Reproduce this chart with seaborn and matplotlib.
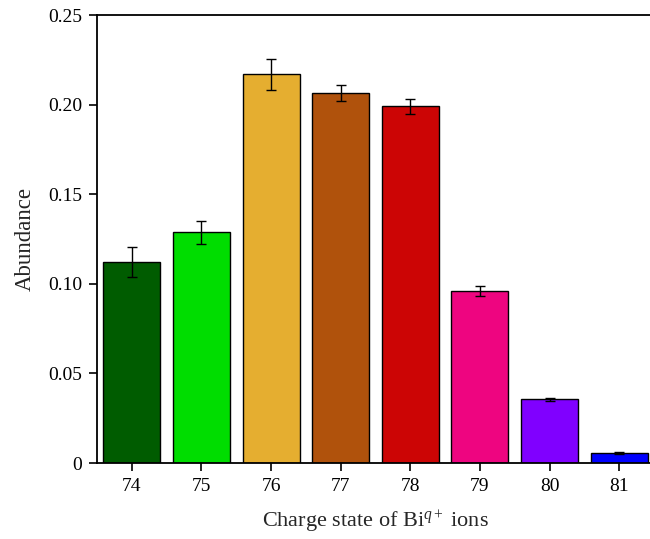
import matplotlib
matplotlib.use("Agg")
import matplotlib.pyplot as plt
import seaborn as sns
import pandas as pd

charges = ["74", "75", "76", "77", "78", "79", "80", "81"]
abundance = [0.1122, 0.1287, 0.2169, 0.2063, 0.1991, 0.0960, 0.0355, 0.0056]
errors = [0.0084, 0.0065, 0.0085, 0.0045, 0.0042, 0.0030, 0.0010, 0.0005]
colors = ["#005C00", "#00DD00", "#E5AE30", "#B0520C", "#CC0505", "#EE0580", "#8000FF", "#0000FF"]

sns.set_style("ticks")
plt.rcParams["font.family"] = ["Liberation Serif", "DejaVu Serif"]
plt.rcParams["mathtext.fontset"] = "custom"
plt.rcParams["mathtext.rm"] = "Liberation Serif"
plt.rcParams["mathtext.it"] = "Liberation Serif:italic"

df = pd.DataFrame({"charge": charges, "abundance": abundance})

fig = plt.figure(figsize=(6.5, 5.39), dpi=100)
ax = fig.add_axes([97 / 650, 76 / 539, (654 - 97) / 650, (463 - 15) / 539])

sns.barplot(data=df, x="charge", y="abundance", hue="charge", palette=colors,
            dodge=False, legend=False, width=0.82, edgecolor="black", linewidth=1.0,
            saturation=1, errorbar=None, ax=ax)
ax.errorbar(range(len(charges)), abundance, yerr=errors, fmt="none",
            ecolor="black", elinewidth=1.0, capsize=3.3, capthick=1.0)

ax.set_xlim(-0.5, 7.5)
ax.set_ylim(0, 0.25)
ax.set_yticks([0, 0.05, 0.10, 0.15, 0.20, 0.25])
ax.set_yticklabels(["0", "0.05", "0.10", "0.15", "0.20", "0.25"])
ax.tick_params(axis="both", labelsize=14, direction="out", length=5.8, width=1.2, colors="black")
ax.tick_params(axis="x", pad=5)
ax.tick_params(axis="y", pad=5)
ax.set_xlabel("Charge state of Bi$^{q+}$ ions", fontsize=16, labelpad=10)
ax.set_ylabel("Abundance", fontsize=16.5, labelpad=9)

for s in ["left", "bottom", "top"]:
    ax.spines[s].set_visible(True)
    ax.spines[s].set_linewidth(1.3)
    ax.spines[s].set_color("black")
ax.spines["right"].set_visible(False)

fig.savefig("out.png", dpi=100)
